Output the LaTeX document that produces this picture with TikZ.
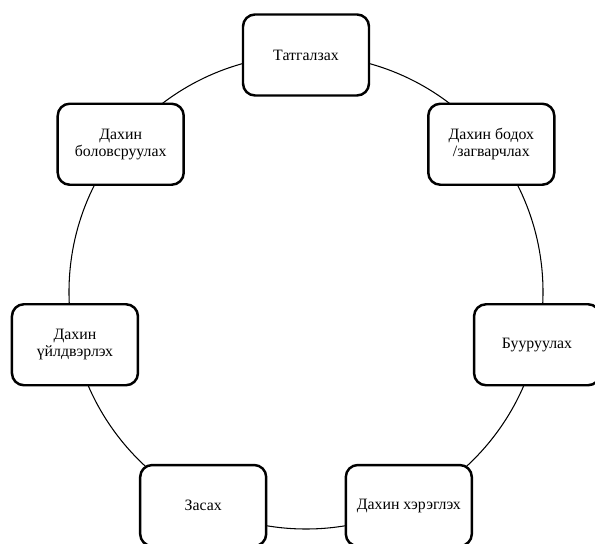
\documentclass[tikz,border=0pt]{standalone}
\usepackage{fontspec}
\setmainfont{Liberation Serif}

\begin{document}
\begin{tikzpicture}[every node/.style={font=\fontsize{9}{9.5}\selectfont}]
    \tikzset{etapa/.style={draw, line width=1.4pt, rounded corners=0.24cm, fill=white,
        minimum width=2.52cm, minimum height=1.62cm, align=center, inner sep=2pt}}
    % Marco del dibujo
    \useasboundingbox (-6.12,-5.02) rectangle (5.78,5.84);

    % Círculo del ciclo
    \coordinate (centro) at (0,0);
    \draw[line width=0.6pt] (centro) circle (4.74);

    % Etapas alrededor del círculo
    \node[etapa] (tatgalzah) at (90:4.74) {Татгалзах};
    \node[etapa] (bodoh) at (38.57:4.74) {Дахин бодох\\/загварчлах};
    \node[etapa] (buuruulah) at (-12.86:4.74) {Бууруулах};
    \node[etapa] (hereglex) at (-64.29:4.74) {Дахин хэрэглэх};
    \node[etapa] (zasah) at (-115.71:4.74) {Засах};
    \node[etapa] (uildverleh) at (-167.14:4.74) {Дахин\\үйлдвэрлэх};
    \node[etapa] (bolovsruulah) at (141.43:4.74) {Дахин\\боловсруулах};
\end{tikzpicture}
\end{document}
